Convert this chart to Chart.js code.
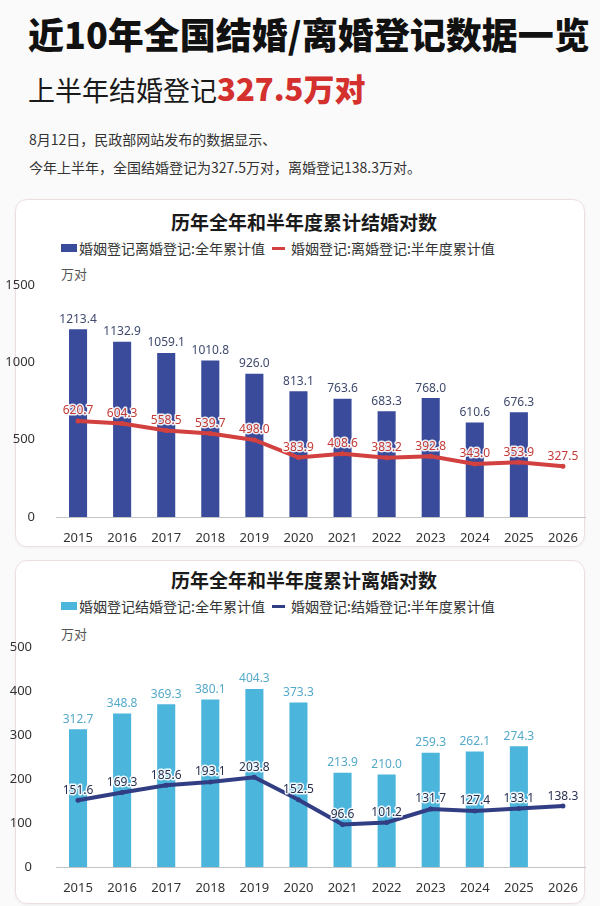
<!DOCTYPE html>
<html lang="zh-CN">
<head>
<meta charset="utf-8">
<title>近10年全国结婚/离婚登记数据一览</title>
<script src="https://cdn.jsdelivr.net/npm/chart.js@4.4.1/dist/chart.umd.min.js"></script>
<style>
  html, body { margin: 0; padding: 0; }
  body {
    width: 600px; height: 906px; position: relative; overflow: hidden;
    background: #fbfafa; color: #222;
    font-family: "Noto Sans CJK SC", "Noto Sans", sans-serif;
  }
  .abs { position: absolute; white-space: nowrap; }
  #title { left: 28px; top: 8px; font-size: 36px; line-height: 50px; font-weight: 900; color: #111; }
  #sub { left: 28px; top: 68px; font-size: 27px; line-height: 40px; color: #1a1a1a; }
  #sub b { font-size: 31px; color: #d3302e; font-weight: 900; }
  .para { left: 29px; font-size: 14px; line-height: 20px; color: #333; }
  .card {
    position: absolute; left: 15px; width: 568px; background: #fff;
    border: 1px solid #eedfdf; border-radius: 12px; box-shadow: 0 1px 3px rgba(0,0,0,0.05);
  }
  .ctitle { left: 0; width: 608px; text-align: center; font-size: 19px; line-height: 26px; font-weight: 700; color: #1a1a1a; }
  .leg { font-size: 14px; line-height: 20px; color: #333; }
  .box { position: absolute; width: 16px; height: 8px; }
  .ln { position: absolute; width: 13px; height: 3px; }
  .unit { left: 61px; font-size: 13px; line-height: 18px; color: #555; }
  canvas { position: absolute; left: 0; }
</style>
</head>
<body>
<div id="title" class="abs">近10年全国结婚/离婚登记数据一览</div>
<div id="sub" class="abs">上半年结婚登记<b>327.5万对</b></div>
<div class="abs para" style="top:129px">8月12日，民政部网站发布的数据显示、</div>
<div class="abs para" style="top:157px">今年上半年，全国结婚登记为327.5万对，离婚登记138.3万对。</div>

<div class="card" style="top:199px;height:346px"></div>
<div class="abs ctitle" style="top:209px">历年全年和半年度累计结婚对数</div>
<div class="box" style="left:61px;top:244px;background:#3b4b9b"></div>
<div class="abs leg" style="left:79px;top:238px">婚姻登记离婚登记:全年累计值</div>
<div class="ln" style="left:272px;top:247px;background:#d2403f"></div>
<div class="abs leg" style="left:291px;top:238px">婚姻登记:离婚登记:半年度累计值</div>
<div class="abs unit" style="top:265px">万对</div>
<canvas id="marriage" width="600" height="283" style="top:264px"></canvas>

<div class="card" style="top:560px;height:342px"></div>
<div class="abs ctitle" style="top:567px">历年全年和半年度累计离婚对数</div>
<div class="box" style="left:61px;top:602px;background:#4cb5dc"></div>
<div class="abs leg" style="left:79px;top:596px">婚姻登记结婚登记:全年累计值</div>
<div class="ln" style="left:272px;top:605px;background:#313e84"></div>
<div class="abs leg" style="left:291px;top:596px">婚姻登记:结婚登记:半年度累计值</div>
<div class="abs unit" style="top:625px">万对</div>
<canvas id="divorce" width="600" height="274" style="top:623px"></canvas>

<script>
const years = ['2015', '2016', '2017', '2018', '2019', '2020', '2021', '2022', '2023', '2024', '2025', '2026'];

// 万对
const marriageFull = [1213.4, 1132.9, 1059.1, 1010.8, 926.0, 813.1, 763.6, 683.3, 768.0, 610.6, 676.3, null];
const marriageHalf = [620.7, 604.3, 558.5, 539.7, 498.0, 383.9, 408.6, 383.2, 392.8, 343.0, 353.9, 327.5];
const divorceFull = [312.7, 348.8, 369.3, 380.1, 404.3, 373.3, 213.9, 210.0, 259.3, 262.1, 274.3, null];
const divorceHalf = [151.6, 169.3, 185.6, 193.1, 203.8, 152.5, 96.6, 101.2, 131.7, 127.4, 133.1, 138.3];

const marriageAxis = { max: 1500, step: 500 };
const divorceAxis = { max: 500, step: 100 };

Chart.defaults.font.family = '"Noto Sans", "Noto Sans CJK SC", sans-serif';
Chart.defaults.color = '#333';

// value labels above bars and points
const valueLabels = {
  id: 'valueLabels',
  afterDatasetsDraw(chart, args, opts) {
    const ctx = chart.ctx;
    chart.data.datasets.forEach((ds, i) => {
      const meta = chart.getDatasetMeta(i);
      meta.data.forEach((el, j) => {
        const v = ds.data[j];
        if (v == null) return;
        const txt = v.toFixed(1);
        const y = el.y - 10;
        ctx.save();
        ctx.font = '12px "Noto Sans", sans-serif';
        ctx.textAlign = 'center';
        ctx.textBaseline = 'middle';
        if (opts.halo[i]) {
          ctx.lineWidth = 3;
          ctx.strokeStyle = 'rgba(255,255,255,0.9)';
          ctx.lineJoin = 'round';
          ctx.strokeText(txt, el.x, y);
        }
        ctx.fillStyle = opts.colors[i];
        ctx.fillText(txt, el.x, y);
        ctx.restore();
      });
    });
  }
};

function makeChart(id, full, half, axis, barColor, lineColor, labelColors, yPad) {
  return new Chart(document.getElementById(id), {
    type: 'bar',
    data: {
      labels: years,
      datasets: [
        {
          type: 'bar',
          data: full,
          backgroundColor: barColor,
          barPercentage: 0.41,
          categoryPercentage: 1.0,
          order: 1,
        },
        {
          type: 'line',
          data: half,
          borderColor: lineColor,
          backgroundColor: lineColor,
          borderWidth: 4,
          pointRadius: 2.5,
          pointBackgroundColor: lineColor,
          pointBorderWidth: 0,
          tension: 0,
          order: 0,
        },
      ],
    },
    options: {
      responsive: false,
      animation: false,
      layout: { padding: { top: 0, right: 15, left: 0, bottom: 0 } },
      plugins: {
        legend: { display: false },
        tooltip: { enabled: false },
        valueLabels: { colors: labelColors, halo: [false, true] },
      },
      scales: {
        x: {
          grid: { display: false },
          border: { display: true, color: '#c4c4c4', width: 1 },
          ticks: { padding: 5, font: { size: 13 }, color: '#333', maxRotation: 0, autoSkip: false },
          afterFit(s) { s.height = 30; },
        },
        y: {
          min: 0,
          max: axis.max,
          grid: { display: false },
          border: { display: false },
          ticks: {
            stepSize: axis.step, padding: yPad, font: { size: 13 }, color: '#333',
            callback: (v) => String(v),
          },
          afterFit(s) { s.width = 56; },
        },
      },
    },
    plugins: [valueLabels],
  });
}

makeChart('marriage', marriageFull, marriageHalf, marriageAxis,
  '#3b4b9b', '#d2403f', ['#3f4a6e', '#c23b36'], 13);
makeChart('divorce', divorceFull, divorceHalf, divorceAxis,
  '#4cb5dc', '#313e84', ['#55a9c9', '#2a3050'], 16);
</script>
</body>
</html>
